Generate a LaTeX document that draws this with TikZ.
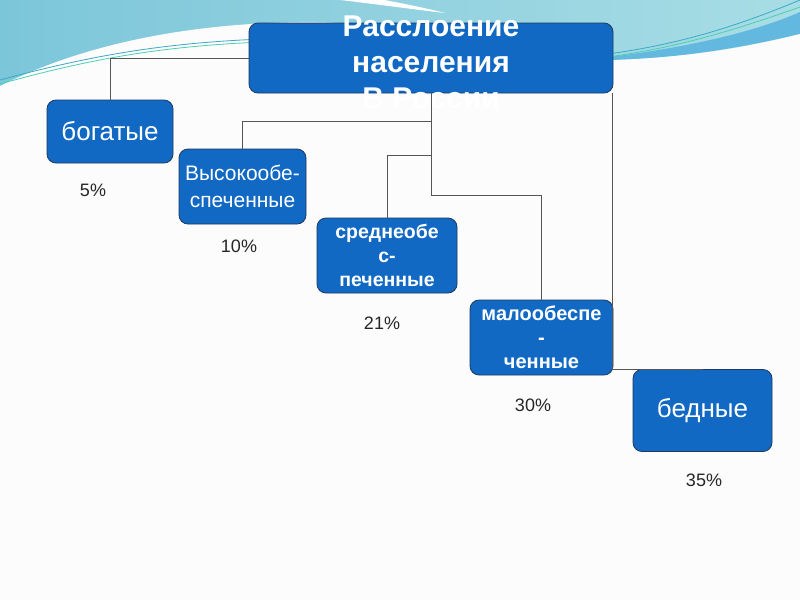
\documentclass[tikz,border=0pt]{standalone}
\usepackage{fontspec}
\setmainfont{Liberation Sans}
\usepackage{xcolor}
\usepackage{tikz}
\definecolor{boxfill}{HTML}{1169C4}
\definecolor{boxline}{HTML}{1E3A5F}
\definecolor{linkline}{HTML}{555555}
\definecolor{skyleft}{HTML}{7CC6DA}
\definecolor{skyright}{HTML}{A8DDE5}
\definecolor{swoosh}{HTML}{62B8DF}
\definecolor{wavea}{HTML}{3AA8C8}
\definecolor{waveb}{HTML}{4CCFB0}
\definecolor{paper}{HTML}{FCFCFC}

\tikzset{
  box/.style={fill=boxfill,draw=boxline,line width=0.8pt,rounded corners=9pt,
              text=white,align=center,inner sep=0pt},
  link/.style={draw=linkline,line width=0.8pt},
  pct/.style={font=\fontsize{18}{20}\selectfont,text=black!85},
}

\begin{document}
\begin{tikzpicture}[x=1pt,y=-1pt]
\useasboundingbox (0,0) rectangle (800,600);
% background
\fill[paper] (0,0) rectangle (800,600);
\fill[left color=skyleft,right color=skyright] (0,0) rectangle (800,95);
\fill[swoosh] (560,62) .. controls (680,52) and (760,30) .. (800,12)
  -- (800,34) .. controls (740,48) and (680,58) .. (614,60) -- cycle;
\fill[paper] (0,86) .. controls (80,46) and (180,24) .. (300,22)
  .. controls (420,20) and (520,62) .. (614,60)
  .. controls (700,57) and (760,44) .. (800,34) -- (800,96) -- (0,96) -- cycle;
\fill[white] (340,0) -- (385,0) .. controls (410,5) and (430,9) .. (445,13)
  .. controls (410,9) and (375,4) .. (340,0) -- cycle;
\draw[wavea,line width=0.8pt] (0,80) .. controls (100,53) and (180,40) .. (300,38);
\draw[waveb,line width=0.8pt] (0,84) .. controls (100,56) and (180,43) .. (300,41);
\draw[wavea,line width=0.8pt] (600,55) .. controls (680,45) and (740,25) .. (800,0);
\draw[waveb,line width=0.8pt] (600,58) .. controls (680,48) and (740,28) .. (800,7);

% boxes
\node[box,minimum width=364pt,text height=13pt,text depth=57pt,
      font=\bfseries\fontsize{30}{36}\selectfont] (top) at (431,58)
      {\begin{tabular}[t]{@{}c@{}}Расслоение\\населения\\В России\end{tabular}};
\node[box,minimum width=126pt,minimum height=63pt,
      font=\fontsize{26}{30}\selectfont] (rich) at (110,131.5) {богатые};
\node[box,minimum width=127pt,minimum height=75pt,
      font=\fontsize{21}{27}\selectfont] (high) at (242.5,186.5) {Высокообе-\\спеченные};
\node[box,minimum width=140pt,minimum height=75pt,
      font=\bfseries\fontsize{19.5}{24}\selectfont] (mid) at (387,255.5) {среднеобе\\с-\\печенные};
\node[box,minimum width=143pt,minimum height=75pt,
      font=\bfseries\fontsize{20}{24}\selectfont] (low) at (541.5,337.5) {малообеспе\\-\\ченные};
\node[box,minimum width=139pt,minimum height=82pt,
      font=\fontsize{26}{30}\selectfont] (poor) at (702.5,410.5) {бедные};

% shares
\node[pct] (p5) at (93,190) {5\%};
\node[pct] (p10) at (239,246) {10\%};
\node[pct] (p21) at (382,323) {21\%};
\node[pct] (p30) at (533,405) {30\%};
\node[pct] (p35) at (704,480) {35\%};

% connectors
\coordinate (k1) at (431,121);
\coordinate (k2) at (431,155);
\coordinate (k3) at (431,195);
\draw[link] (top.west) -| (rich.north);
\draw[link] (top.south) -- (k3) -| (low.north);
\draw[link] (k1) -| (high.north);
\draw[link] (k2) -| (mid.north);
\draw[link] ([xshift=-1pt]top.south east) |- (poor.north);
\end{tikzpicture}
\end{document}
